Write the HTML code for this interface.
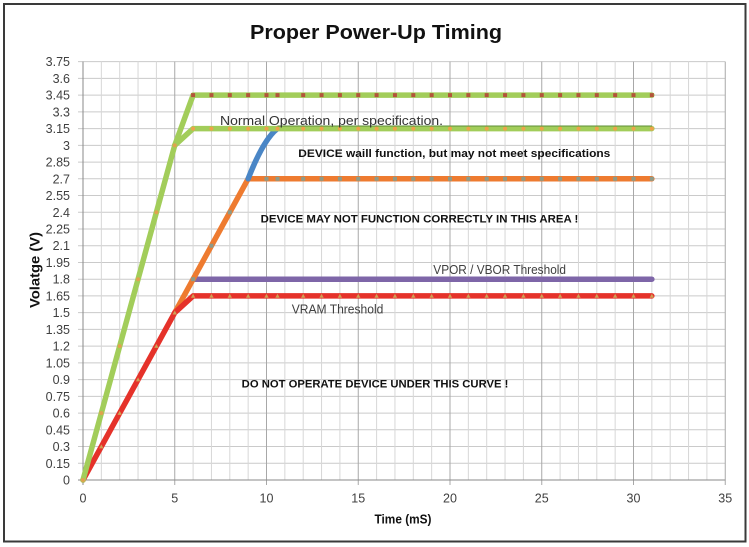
<!DOCTYPE html>
<html>
<head>
<meta charset="utf-8">
<style>
html,body{margin:0;padding:0;background:#fff;}
svg{display:block;}
text{font-family:"Liberation Sans",sans-serif;}
</style>
</head>
<body>
<svg width="749" height="547" viewBox="0 0 749 547" xmlns="http://www.w3.org/2000/svg">
<defs>
  <marker id="mTan" markerUnits="userSpaceOnUse" markerWidth="6" markerHeight="6" refX="3" refY="3"><circle cx="3" cy="3" r="2" fill="#e0a34e"/></marker>
  <marker id="mBrown" markerUnits="userSpaceOnUse" markerWidth="6" markerHeight="6" refX="3" refY="3"><rect x="1" y="1" width="4" height="4" fill="#b3543a"/></marker>
  <marker id="mOrange" markerUnits="userSpaceOnUse" markerWidth="6" markerHeight="6" refX="3" refY="3"><circle cx="3" cy="3" r="2" fill="#eea24a"/></marker>
  <marker id="mGray" markerUnits="userSpaceOnUse" markerWidth="6" markerHeight="6" refX="3" refY="3"><rect x="1" y="1" width="4" height="4" fill="#8e9a88"/></marker>
  <marker id="mTri" markerUnits="userSpaceOnUse" markerWidth="6" markerHeight="6" refX="3" refY="3"><path d="M3 0.8 L5.2 4.8 L0.8 4.8 Z" fill="#cfa055"/></marker>
</defs>

<rect x="0" y="0" width="749" height="547" fill="#fff"/>
<rect x="4" y="4" width="741.5" height="537.5" fill="#fff" stroke="#3a3a3a" stroke-width="2"/>

<!-- title -->
<text x="376" y="39" font-size="20" font-weight="bold" text-anchor="middle" textLength="252" lengthAdjust="spacingAndGlyphs" fill="#111">Proper Power-Up Timing</text>

<!-- horizontal grid -->
<path fill="none" stroke="#cacaca" stroke-width="1" d="
M78 463.27H725.25 M78 446.53H725.25 M78 429.8H725.25 M78 413.07H725.25 M78 396.33H725.25
M78 379.6H725.25 M78 362.87H725.25 M78 346.13H725.25 M78 329.4H725.25 M78 312.67H725.25
M78 295.93H725.25 M78 279.2H725.25 M78 262.47H725.25 M78 245.73H725.25 M78 229H725.25
M78 212.27H725.25 M78 195.53H725.25 M78 178.8H725.25 M78 162.07H725.25 M78 145.33H725.25
M78 128.6H725.25 M78 111.87H725.25 M78 95.13H725.25 M78 78.4H725.25 M78 61.67H725.25"/>

<!-- minor vertical grid -->
<path fill="none" stroke="#d7d7d7" stroke-width="1" d="
M101.35 61.67V480 M119.7 61.67V480 M138.05 61.67V480 M156.4 61.67V480
M193.1 61.67V480 M211.45 61.67V480 M229.8 61.67V480 M248.15 61.67V480
M284.85 61.67V480 M303.2 61.67V480 M321.55 61.67V480 M339.9 61.67V480
M376.6 61.67V480 M394.95 61.67V480 M413.3 61.67V480 M431.65 61.67V480
M468.35 61.67V480 M486.7 61.67V480 M505.05 61.67V480 M523.4 61.67V480
M560.1 61.67V480 M578.45 61.67V480 M596.8 61.67V480 M615.15 61.67V480
M651.85 61.67V480 M670.2 61.67V480 M688.55 61.67V480 M706.9 61.67V480"/>

<!-- major vertical grid -->
<path fill="none" stroke="#a8a8a8" stroke-width="1" d="
M174.75 61.67V485 M266.5 61.67V485 M358.25 61.67V485 M450 61.67V485
M541.75 61.67V485 M633.5 61.67V485 M725.25 61.67V485"/>

<!-- axes -->
<path fill="none" stroke="#8a8a8a" stroke-width="1" d="M83 61.67V485 M78 480H725.25"/>

<!-- y tick labels -->
<g font-size="12.5" fill="#404040" text-anchor="end">
<text x="70" y="484.5">0</text>
<text x="70" y="467.8">0.15</text>
<text x="70" y="451">0.3</text>
<text x="70" y="434.3">0.45</text>
<text x="70" y="417.6">0.6</text>
<text x="70" y="400.8">0.75</text>
<text x="70" y="384.1">0.9</text>
<text x="70" y="367.4">1.05</text>
<text x="70" y="350.6">1.2</text>
<text x="70" y="333.9">1.35</text>
<text x="70" y="317.2">1.5</text>
<text x="70" y="300.4">1.65</text>
<text x="70" y="283.7">1.8</text>
<text x="70" y="267">1.95</text>
<text x="70" y="250.2">2.1</text>
<text x="70" y="233.5">2.25</text>
<text x="70" y="216.8">2.4</text>
<text x="70" y="200">2.55</text>
<text x="70" y="183.3">2.7</text>
<text x="70" y="166.6">2.85</text>
<text x="70" y="149.8">3</text>
<text x="70" y="133.1">3.15</text>
<text x="70" y="116.4">3.3</text>
<text x="70" y="99.6">3.45</text>
<text x="70" y="82.9">3.6</text>
<text x="70" y="66.2">3.75</text>
</g>

<!-- x tick labels -->
<g font-size="12.5" fill="#404040" text-anchor="middle">
<text x="83" y="502.5">0</text>
<text x="174.75" y="502.5">5</text>
<text x="266.5" y="502.5">10</text>
<text x="358.25" y="502.5">15</text>
<text x="450" y="502.5">20</text>
<text x="541.75" y="502.5">25</text>
<text x="633.5" y="502.5">30</text>
<text x="725.25" y="502.5">35</text>
</g>

<!-- axis titles -->
<text x="403" y="523.5" font-size="12.5" font-weight="bold" text-anchor="middle" textLength="57" lengthAdjust="spacingAndGlyphs" fill="#111">Time (mS)</text>
<text transform="translate(39.5,270) rotate(-90)" x="0" y="0" font-size="13.5" font-weight="bold" text-anchor="middle" textLength="76" lengthAdjust="spacingAndGlyphs" fill="#111">Volatge (V)</text>

<!-- series -->
<g fill="none" stroke-width="5.5" stroke-linejoin="round" stroke-linecap="round">
  <!-- purple -->
  <polyline stroke="#7e66a8" points="193.1,279.2 651.85,279.2"/>
  <!-- orange -->
  <polyline stroke="#ee7b30" marker-mid="url(#mGray)" marker-end="url(#mGray)"
    points="174.75,312.67 193.1,279.2 211.45,245.73 229.8,212.27 248.15,178.8 266.5,178.8 277.51,178.8 303.2,178.8 321.55,178.8 339.9,178.8 358.25,178.8 376.6,178.8 394.95,178.8 413.3,178.8 431.65,178.8 450,178.8 468.35,178.8 486.7,178.8 505.05,178.8 523.4,178.8 541.75,178.8 560.1,178.8 578.45,178.8 596.8,178.8 615.15,178.8 633.5,178.8 651.85,178.8"/>
  <!-- red -->
  <polyline stroke="#e5322a" marker-start="url(#mTri)" marker-mid="url(#mTri)" marker-end="url(#mTri)"
    points="83,480 101.35,446.53 119.7,413.07 138.05,379.6 156.4,346.13 174.75,312.67 193.1,295.93 211.45,295.93 229.8,295.93 248.15,295.93 266.5,295.93 277.51,295.93 303.2,295.93 321.55,295.93 339.9,295.93 358.25,295.93 376.6,295.93 394.95,295.93 413.3,295.93 431.65,295.93 450,295.93 468.35,295.93 486.7,295.93 505.05,295.93 523.4,295.93 541.75,295.93 560.1,295.93 578.45,295.93 596.8,295.93 615.15,295.93 633.5,295.93 651.85,295.93"/>
  <!-- blue -->
  <path stroke="#4a86c6" d="M248.15,178.8 Q263.6,139.1 277.51,128.6"/>
  <!-- green lower (3.15) -->
  <polyline stroke="#a2cd5a" marker-mid="url(#mOrange)" marker-end="url(#mOrange)"
    points="174.75,145.33 193.1,128.6 211.45,128.6 229.8,128.6 248.15,128.6 266.5,128.6 277.51,128.6 303.2,128.6 321.55,128.6 339.9,128.6 358.25,128.6 376.6,128.6 394.95,128.6 413.3,128.6 431.65,128.6 450,128.6 468.35,128.6 486.7,128.6 505.05,128.6 523.4,128.6 541.75,128.6 560.1,128.6 578.45,128.6 596.8,128.6 615.15,128.6 633.5,128.6 651.85,128.6"/>
  <!-- green upper (3.45) -->
  <polyline stroke="#a2cd5a" marker-mid="url(#mBrown)" marker-end="url(#mBrown)"
    points="174.75,145.33 193.1,95.13 211.45,95.13 229.8,95.13 248.15,95.13 266.5,95.13 277.51,95.13 303.2,95.13 321.55,95.13 339.9,95.13 358.25,95.13 376.6,95.13 394.95,95.13 413.3,95.13 431.65,95.13 450,95.13 468.35,95.13 486.7,95.13 505.05,95.13 523.4,95.13 541.75,95.13 560.1,95.13 578.45,95.13 596.8,95.13 615.15,95.13 633.5,95.13 651.85,95.13"/>
  <!-- green rising -->
  <polyline stroke="#a2cd5a" marker-start="url(#mTan)" marker-mid="url(#mTan)" marker-end="url(#mTan)"
    points="83,480 101.35,413.07 119.7,346.13 138.05,279.2 156.4,212.27 174.75,145.33"/>
</g>
<!-- thin dark green line on top of 3.15 -->
<line x1="277.5" y1="126" x2="652" y2="126" stroke="#5d8f36" stroke-width="1"/>

<!-- annotations -->
<text x="220" y="125" font-size="13" fill="#333" textLength="223" lengthAdjust="spacingAndGlyphs">Normal Operation, per specification.</text>
<text x="298.3" y="157" font-size="11" font-weight="bold" fill="#111" textLength="312" lengthAdjust="spacingAndGlyphs">DEVICE waill function, but may not meet specifications</text>
<text x="260.7" y="222.3" font-size="11" font-weight="bold" fill="#111" textLength="317.6" lengthAdjust="spacingAndGlyphs">DEVICE MAY NOT FUNCTION CORRECTLY IN THIS AREA !</text>
<text x="433.3" y="274" font-size="12.5" fill="#404040" textLength="132.7" lengthAdjust="spacingAndGlyphs">VPOR / VBOR Threshold</text>
<text x="291.7" y="313.3" font-size="12.5" fill="#404040" textLength="91.7" lengthAdjust="spacingAndGlyphs">VRAM Threshold</text>
<text x="241.7" y="387.7" font-size="11" font-weight="bold" fill="#111" textLength="266.7" lengthAdjust="spacingAndGlyphs">DO NOT OPERATE DEVICE UNDER THIS CURVE !</text>
</svg>
</body>
</html>
